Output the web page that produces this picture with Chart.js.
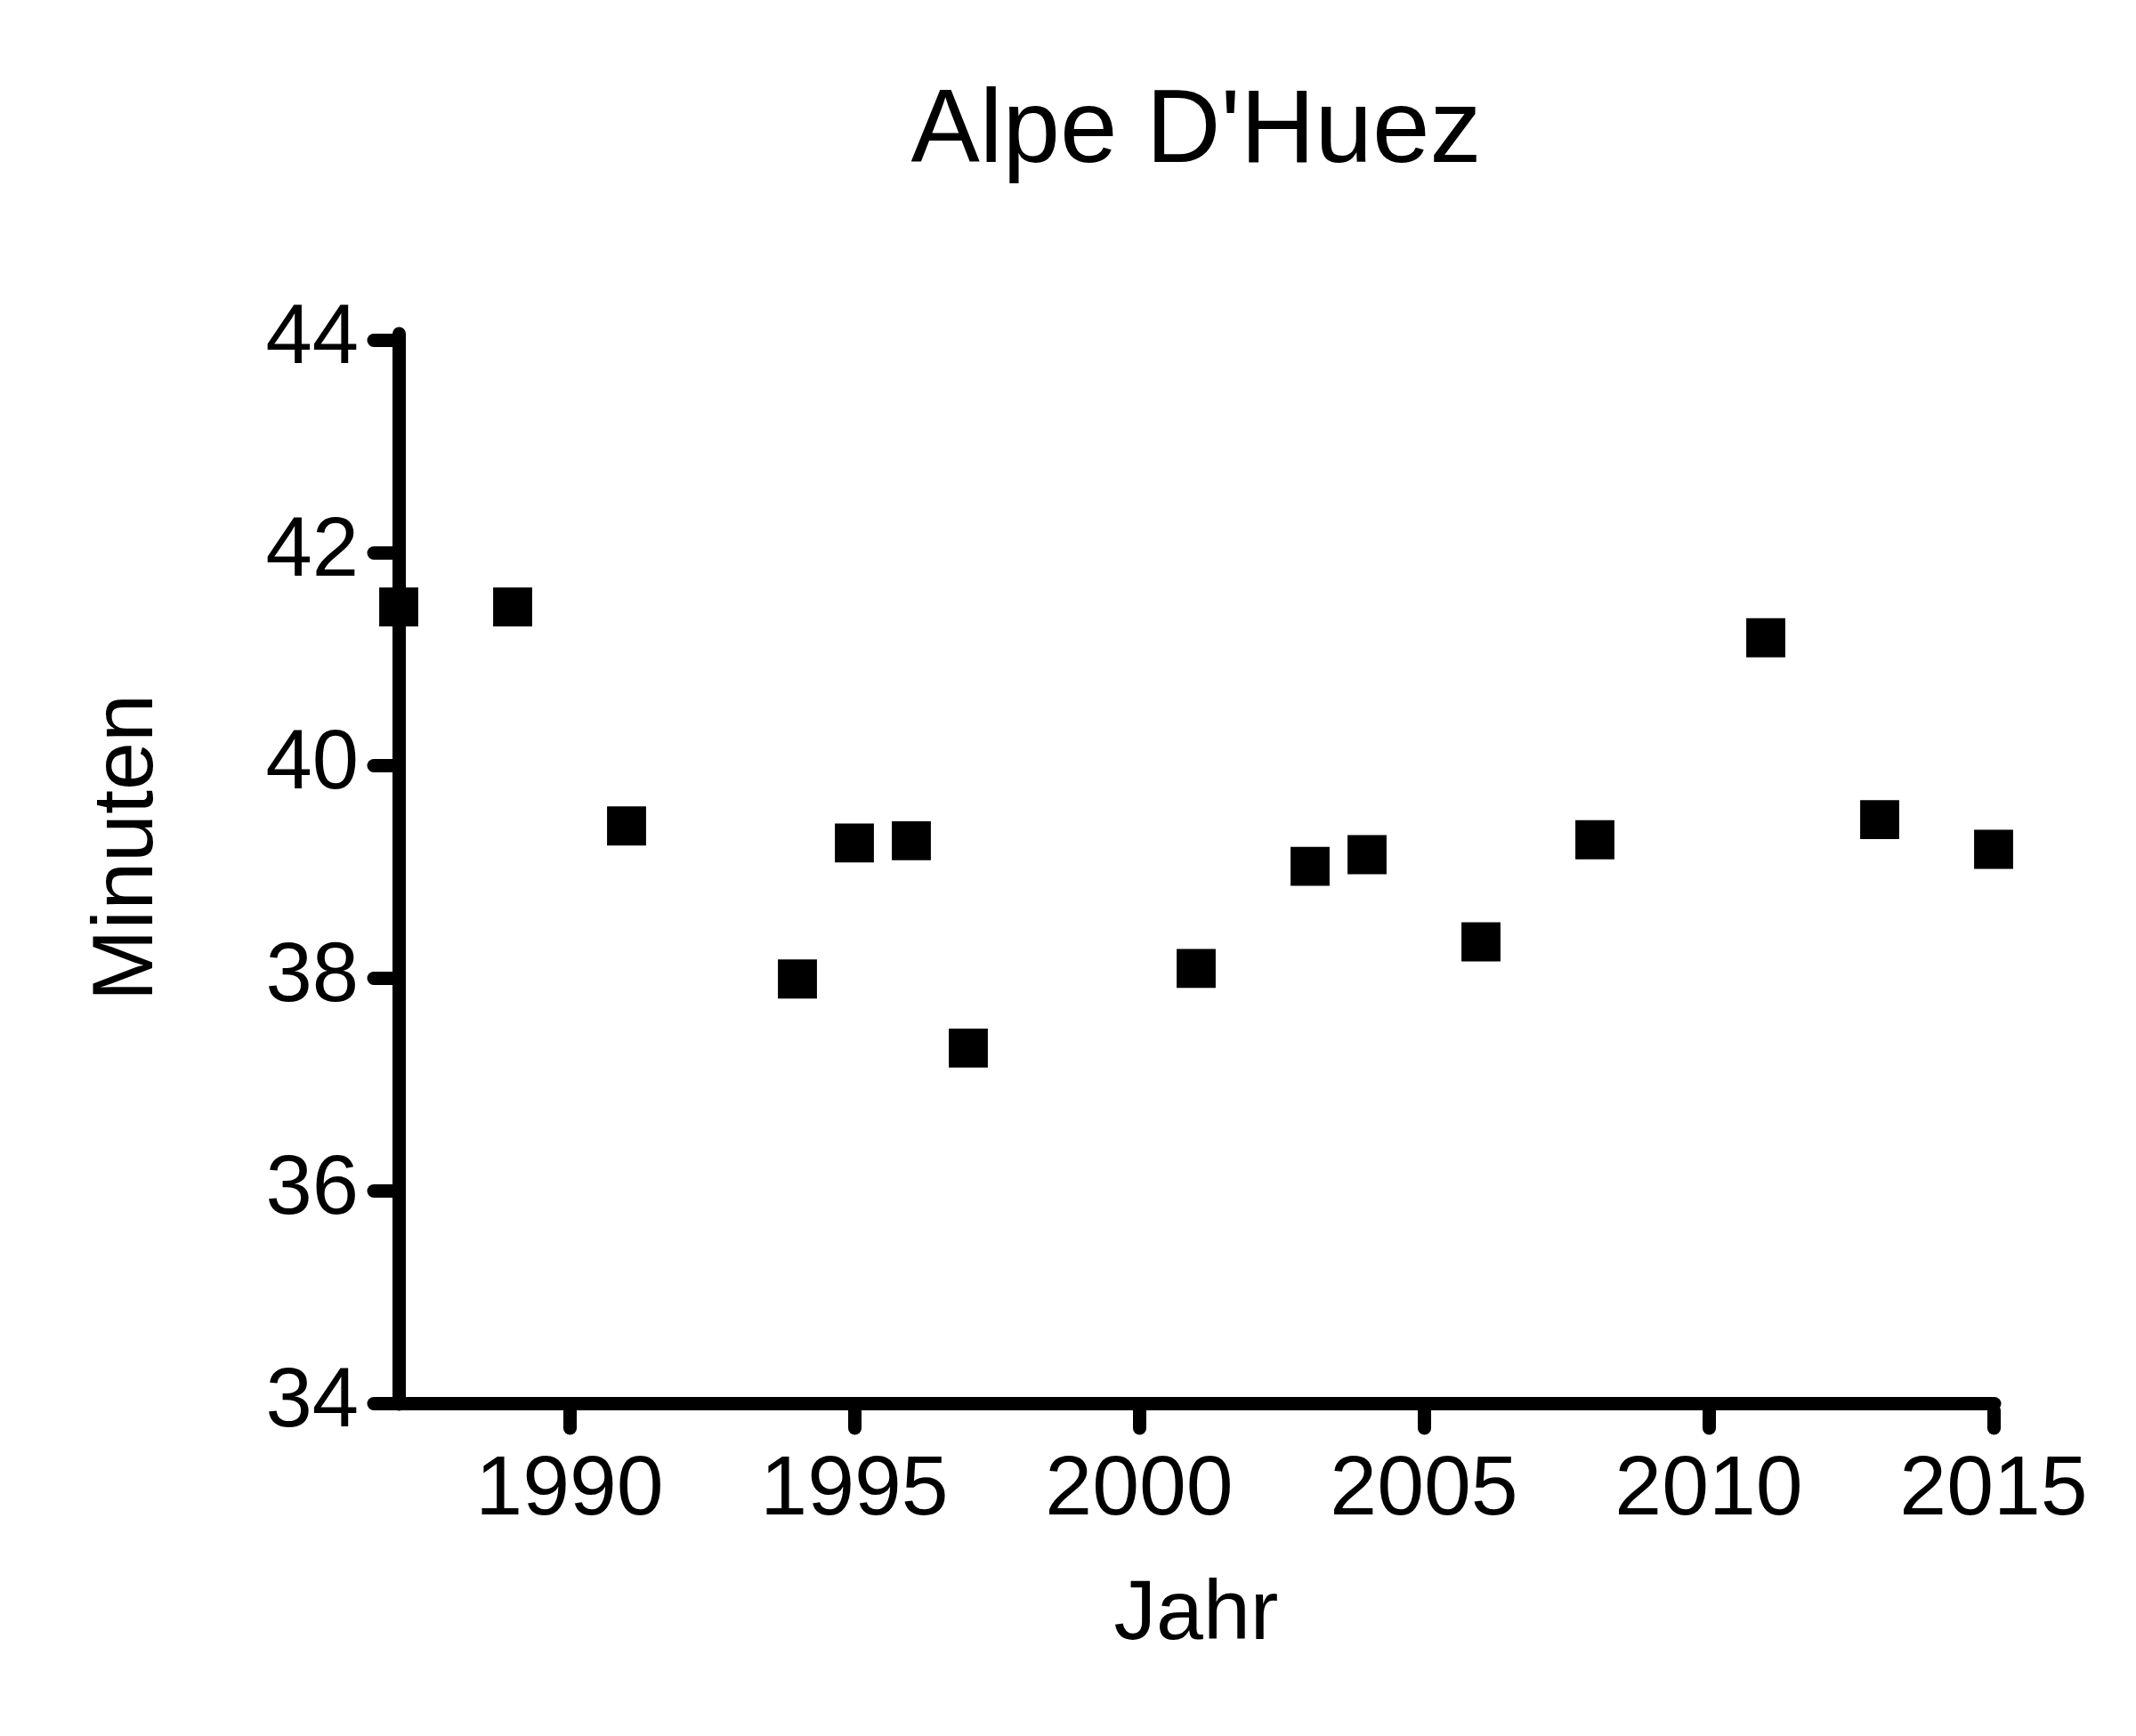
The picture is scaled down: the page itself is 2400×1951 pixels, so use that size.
<!DOCTYPE html>
<html>
<head>
<meta charset="utf-8">
<script src="https://cdn.jsdelivr.net/npm/chart.js@4"></script>
<style>
  html, body { margin: 0; padding: 0; background: #ffffff; }
  #c { display: block; }
</style>
</head>
<body>
<canvas id="c" width="2400" height="1951"></canvas>
<script>
const chartTitle = "Alpe D'Huez";
const xTitle = "Jahr";
const yTitle = "Minuten";
const years = [1987, 1989, 1991, 1994, 1995, 1996, 1997, 2001, 2003, 2004, 2006, 2008, 2011, 2013, 2015];
const minutes = [41.49, 41.49, 39.43, 37.99, 39.27, 39.29, 37.34, 38.09, 39.05, 39.16, 38.34, 39.30, 41.20, 39.49, 39.21];
const xTicks = [1990, 1995, 2000, 2005, 2010, 2015];
const yTicks = [34, 36, 38, 40, 42, 44];

const FONT = "'Liberation Sans', Arial, Helvetica, sans-serif";

const roundCaps = {
  id: 'roundCaps',
  beforeDraw(chart) {
    chart.ctx.lineCap = 'round';
  }
};

new Chart(document.getElementById('c'), {
  type: 'scatter',
  data: {
    datasets: [{
      data: years.map((y, i) => ({ x: y, y: minutes[i] })),
      pointStyle: 'rect',
      pointRadius: 31,
      pointHoverRadius: 31,
      backgroundColor: '#000000',
      borderWidth: 0,
      clip: false
    }]
  },
  options: {
    responsive: false,
    devicePixelRatio: 1,
    animation: false,
    layout: { padding: { left: 0, right: 160, top: 0, bottom: 0 } },
    plugins: {
      legend: { display: false },
      tooltip: { enabled: false },
      title: {
        display: true,
        text: chartTitle,
        fullSize: false,
        color: '#000000',
        font: { family: FONT, size: 116, weight: 'normal' },
        padding: { top: 80, bottom: 163 }
      }
    },
    scales: {
      x: {
        type: 'linear',
        min: 1987,
        max: 2015,
        afterBuildTicks(scale) { scale.ticks = xTicks.map(v => ({ value: v })); },
        afterFit(scale) { scale.height = 374; },
        grid: {
          drawOnChartArea: false,
          drawTicks: true,
          tickLength: 28,
          tickWidth: 15,
          tickColor: '#000000'
        },
        border: { display: true, width: 15, color: '#000000' },
        ticks: {
          color: '#000000',
          font: { family: FONT, size: 95 },
          padding: 14,
          maxRotation: 0,
          autoSkip: false,
          callback: (v) => String(v)
        },
        title: {
          display: true,
          text: xTitle,
          color: '#000000',
          font: { family: FONT, size: 95 },
          padding: { top: 0, bottom: 78 }
        }
      },
      y: {
        type: 'linear',
        min: 34,
        max: 44,
        afterBuildTicks(scale) { scale.ticks = yTicks.map(v => ({ value: v })); },
        afterFit(scale) { scale.width = 448; },
        grid: {
          drawOnChartArea: false,
          drawTicks: true,
          tickLength: 28,
          tickWidth: 15,
          tickColor: '#000000'
        },
        border: { display: true, width: 15, color: '#000000' },
        ticks: {
          color: '#000000',
          font: { family: FONT, size: 94 },
          padding: 17,
          callback: (v) => String(v)
        },
        title: {
          display: true,
          text: '  ' + yTitle,
          color: '#000000',
          font: { family: FONT, size: 97 },
          padding: { top: 86, bottom: 0 }
        }
      }
    }
  },
  plugins: [roundCaps]
});
</script>
</body>
</html>
